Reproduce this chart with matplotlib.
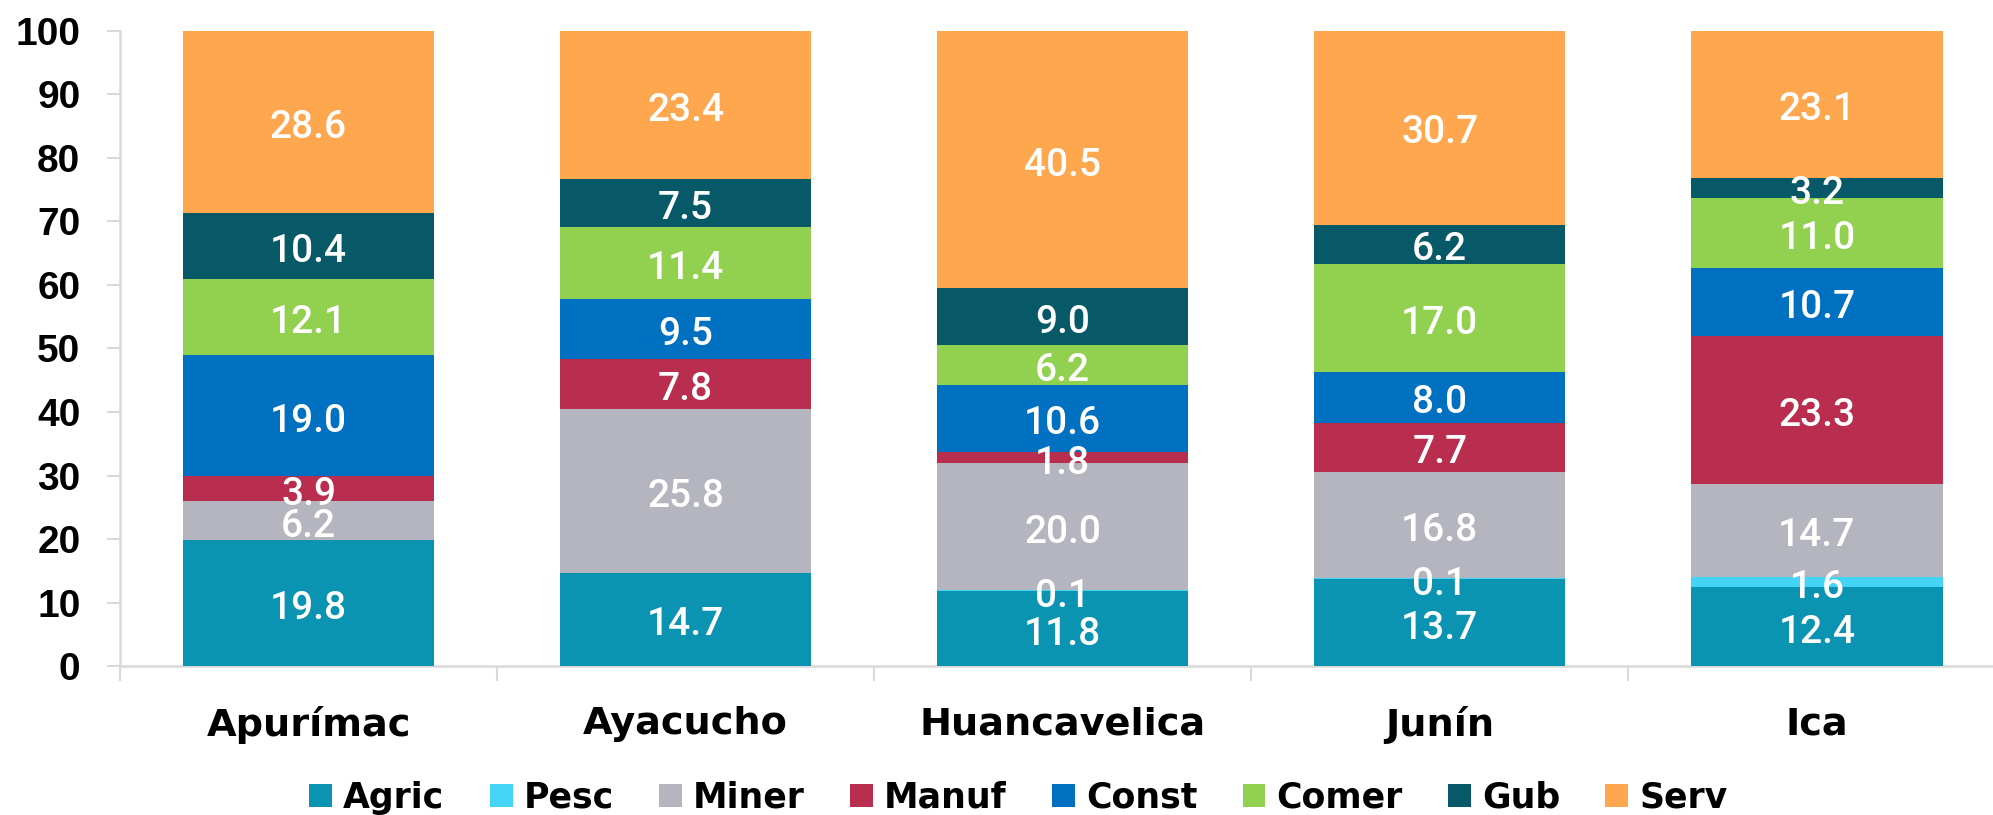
import matplotlib
matplotlib.use('Agg')
import matplotlib.pyplot as plt
import numpy as np

# ── 数据 ──
regions = ['Apurímac', 'Ayacucho', 'Huancavelica', 'Junín', 'Ica']
sectors = ['Agric', 'Pesc', 'Miner', 'Manuf', 'Const', 'Comer', 'Gub', 'Serv']

agric = [19.8, 14.7, 11.8, 13.7, 12.4]
pesc = [0.0, 0.0, 0.1, 0.1, 1.6]
miner = [6.2, 25.8, 20.0, 16.8, 14.7]
manuf = [3.9, 7.8, 1.8, 7.7, 23.3]
const = [19.0, 9.5, 10.6, 8.0, 10.7]
comer = [12.1, 11.4, 6.2, 17.0, 11.0]
gub = [10.4, 7.5, 9.0, 6.2, 3.2]
serv = [28.6, 23.4, 40.5, 30.7, 23.1]

series = [agric, pesc, miner, manuf, const, comer, gub, serv]
colors = ['#0A94B1', '#44D4F5', '#B5B5BF', '#B92D4E', '#0070C0', '#92D050', '#085968', '#FFA74F']

fig = plt.figure(figsize=(19.93, 8.15), dpi=100)
ax = fig.add_axes([0.0602, 0.1828, 0.946, 0.7792])

x = np.arange(len(regions))
bottom = np.zeros(len(regions))
for name, vals, c in zip(sectors, series, colors):
    vals = np.array(vals)
    ax.bar(x, vals, 0.667, bottom=bottom, color=c, label=name, zorder=3)
    # 标签放在分段中心，稍微下移
    for xi, b, v in zip(x, bottom, vals):
        if v > 0:
            ax.annotate(f'{v:.1f}', (xi, b + v / 2), textcoords='offset points',
                        xytext=(0, -4), ha='center', va='center',
                        color='white', fontsize=28, family='Roboto',
                        fontweight='medium', zorder=4)
    bottom += vals

ax.set_xlim(-0.5, len(regions) - 0.5)
ax.set_ylim(0, 100)
ax.set_yticks(np.arange(0, 101, 10))
ax.set_yticklabels([str(v) for v in range(0, 101, 10)],
                   fontsize=28, fontweight='bold', family='Liberation Sans')

ax.set_xticks(x)
ax.set_xticklabels(regions, fontsize=27.5, fontweight='bold', family='DejaVu Sans')
ax.set_xticks(np.arange(-0.5, len(regions)), minor=True)
ax.tick_params(axis='x', which='major', length=0, pad=29)
ax.tick_params(axis='x', which='minor', length=11, width=1.5, color='#D9D9D9')
ax.tick_params(axis='y', length=9.5, width=1.5, color='#D9D9D9', pad=19)

for s in ['top', 'right']:
    ax.spines[s].set_visible(False)
for s in ['left', 'bottom']:
    ax.spines[s].set_color('#D9D9D9')
    ax.spines[s].set_linewidth(1.8)

leg = fig.legend(loc='center', bbox_to_anchor=(0.511, 0.021), ncol=8, frameon=False,
                 prop={'family': 'DejaVu Sans', 'weight': 'bold', 'size': 25},
                 handlelength=0.66, handleheight=0.66, handletextpad=0.32,
                 columnspacing=1.3, borderpad=0)

fig.savefig('out.png', dpi=100, facecolor='white')
